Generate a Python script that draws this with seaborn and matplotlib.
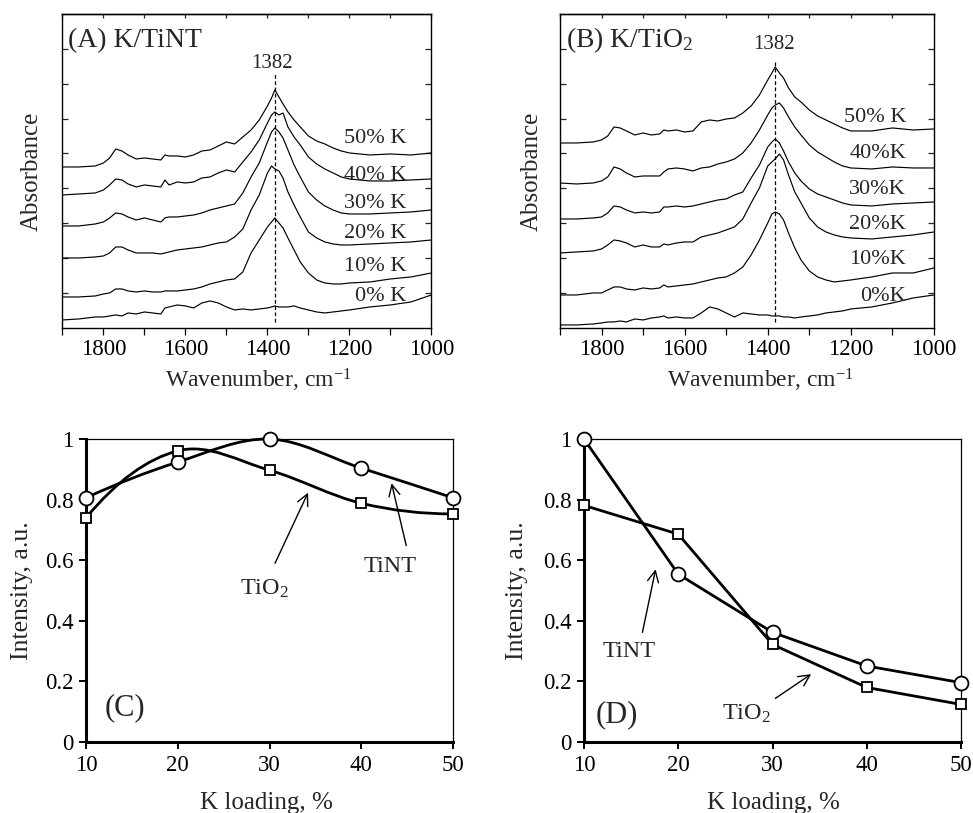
import numpy as np
import matplotlib
matplotlib.use("Agg")
import matplotlib.pyplot as plt
import seaborn as sns
from matplotlib.path import Path
from matplotlib.patches import PathPatch
from matplotlib.ticker import FuncFormatter

# ---- DRIFTS spectra (absorbance, arbitrary units, offset stacked) ----
wavenumber = [1900, 1860, 1820, 1800, 1785, 1770, 1755, 1740, 1720, 1700,
              1680, 1660, 1650, 1640, 1620, 1600, 1580, 1560, 1540, 1520,
              1500, 1480, 1460, 1440, 1420, 1400, 1390, 1382, 1372, 1362,
              1350, 1335, 1320, 1300, 1280, 1260, 1240, 1220, 1200, 1150,
              1100, 1050, 1000]

tint_50 = [1.61, 1.61, 1.62, 1.65, 1.70, 1.79, 1.77, 1.73, 1.69, 1.70,
           1.69, 1.68, 1.73, 1.72, 1.72, 1.71, 1.73, 1.77, 1.78, 1.82,
           1.86, 1.84, 1.91, 1.98, 2.08, 2.22, 2.30, 2.38, 2.31, 2.24,
           2.16, 2.08, 2.01, 1.92, 1.87, 1.84, 1.80, 1.77, 1.75, 1.73,
           1.74, 1.73, 1.75]
tint_40 = [1.33, 1.34, 1.35, 1.38, 1.43, 1.49, 1.48, 1.44, 1.41, 1.43,
           1.42, 1.41, 1.48, 1.43, 1.46, 1.45, 1.46, 1.50, 1.51, 1.55,
           1.58, 1.56, 1.66, 1.76, 1.88, 2.05, 2.13, 2.16, 2.13, 2.15,
           2.01, 1.91, 1.83, 1.71, 1.64, 1.59, 1.55, 1.51, 1.49, 1.47,
           1.47, 1.48, 1.49]
tint_30 = [1.02, 1.02, 1.04, 1.06, 1.10, 1.15, 1.14, 1.11, 1.08, 1.10,
           1.08, 1.06, 1.10, 1.11, 1.11, 1.12, 1.13, 1.15, 1.18, 1.20,
           1.22, 1.24, 1.35, 1.51, 1.65, 1.86, 1.96, 2.00, 1.96, 1.90,
           1.78, 1.63, 1.51, 1.36, 1.28, 1.22, 1.18, 1.15, 1.14, 1.14,
           1.15, 1.16, 1.18]
tint_20 = [0.70, 0.70, 0.71, 0.72, 0.75, 0.81, 0.81, 0.78, 0.75, 0.75,
           0.75, 0.74, 0.75, 0.76, 0.78, 0.79, 0.80, 0.81, 0.83, 0.85,
           0.86, 0.91, 0.99, 1.18, 1.33, 1.55, 1.62, 1.59, 1.57, 1.50,
           1.36, 1.23, 1.11, 0.96, 0.90, 0.86, 0.84, 0.83, 0.83, 0.84,
           0.85, 0.86, 0.88]
tint_10 = [0.31, 0.31, 0.32, 0.34, 0.35, 0.39, 0.39, 0.37, 0.36, 0.37,
           0.36, 0.36, 0.37, 0.37, 0.37, 0.38, 0.39, 0.41, 0.44, 0.46,
           0.48, 0.49, 0.56, 0.75, 0.88, 1.01, 1.06, 1.10, 1.05, 1.00,
           0.90, 0.78, 0.66, 0.55, 0.48, 0.45, 0.44, 0.44, 0.45, 0.46,
           0.49, 0.51, 0.55]
tint_0 = [0.08, 0.09, 0.11, 0.11, 0.12, 0.13, 0.12, 0.15, 0.14, 0.16,
          0.15, 0.14, 0.20, 0.21, 0.23, 0.22, 0.20, 0.25, 0.27, 0.25,
          0.21, 0.18, 0.19, 0.18, 0.19, 0.20, 0.21, 0.22, 0.21, 0.21,
          0.21, 0.22, 0.20, 0.18, 0.16, 0.15, 0.16, 0.17, 0.18, 0.21,
          0.23, 0.26, 0.33]

tio2_50 = [1.85, 1.85, 1.86, 1.88, 1.92, 2.01, 2.00, 1.97, 1.93, 1.95,
           1.93, 1.94, 1.98, 1.97, 1.98, 1.96, 1.97, 2.06, 2.08, 2.07,
           2.09, 2.10, 2.15, 2.22, 2.33, 2.48, 2.55, 2.61, 2.55, 2.50,
           2.40, 2.31, 2.26, 2.18, 2.12, 2.08, 2.04, 2.00, 1.97, 1.97,
           2.00, 1.98, 1.99]
tio2_40 = [1.45, 1.44, 1.45, 1.47, 1.51, 1.61, 1.59, 1.55, 1.51, 1.52,
           1.52, 1.52, 1.56, 1.59, 1.60, 1.59, 1.57, 1.60, 1.61, 1.64,
           1.66, 1.69, 1.75, 1.85, 1.98, 2.13, 2.20, 2.23, 2.25, 2.20,
           2.11, 2.01, 1.93, 1.83, 1.76, 1.71, 1.66, 1.62, 1.60, 1.59,
           1.61, 1.60, 1.60]
tio2_30 = [1.09, 1.09, 1.10, 1.11, 1.15, 1.22, 1.21, 1.18, 1.15, 1.16,
           1.15, 1.16, 1.21, 1.21, 1.22, 1.21, 1.22, 1.24, 1.26, 1.28,
           1.29, 1.33, 1.36, 1.50, 1.63, 1.81, 1.86, 1.89, 1.85, 1.77,
           1.66, 1.55, 1.47, 1.39, 1.34, 1.31, 1.28, 1.25, 1.23, 1.22,
           1.24, 1.25, 1.26]
tio2_20 = [0.75, 0.76, 0.77, 0.79, 0.83, 0.88, 0.87, 0.85, 0.81, 0.83,
           0.81, 0.81, 0.84, 0.83, 0.85, 0.86, 0.86, 0.91, 0.93, 0.95,
           0.98, 1.01, 1.09, 1.25, 1.40, 1.62, 1.66, 1.69, 1.74, 1.68,
           1.53, 1.36, 1.25, 1.10, 1.01, 0.96, 0.93, 0.91, 0.90, 0.89,
           0.91, 0.93, 0.96]
tio2_10 = [0.33, 0.33, 0.35, 0.35, 0.38, 0.41, 0.41, 0.39, 0.38, 0.40,
           0.39, 0.40, 0.43, 0.41, 0.42, 0.43, 0.44, 0.46, 0.48, 0.50,
           0.51, 0.55, 0.61, 0.73, 0.88, 1.05, 1.14, 1.16, 1.14, 1.08,
           0.95, 0.80, 0.68, 0.57, 0.51, 0.48, 0.46, 0.47, 0.48, 0.51,
           0.55, 0.55, 0.60]
tio2_0 = [0.03, 0.03, 0.04, 0.05, 0.06, 0.06, 0.07, 0.06, 0.09, 0.08,
          0.10, 0.11, 0.12, 0.10, 0.11, 0.10, 0.10, 0.15, 0.21, 0.19,
          0.15, 0.11, 0.15, 0.14, 0.13, 0.13, 0.12, 0.12, 0.12, 0.11,
          0.11, 0.10, 0.11, 0.12, 0.13, 0.15, 0.16, 0.17, 0.19, 0.21,
          0.25, 0.30, 0.33]

tint_labels = ["50% K", "40% K", "30% K", "20% K", "10% K", "0% K"]
tint_label_y = [1.85, 1.48, 1.20, 0.90, 0.57, 0.27]
tio2_labels = ["50% K", "40%K", "30%K", "20%K", "10%K", "0%K"]
tio2_label_y = [2.06, 1.70, 1.34, 0.99, 0.64, 0.27]
peak_wavenumber = 1382

# ---- normalised band intensity vs K loading ----
loading = [10, 20, 30, 40, 50]
c_tint = [0.806, 0.924, 1.0, 0.904, 0.806]
c_tio2 = [0.740, 0.961, 0.897, 0.788, 0.753]
d_tint = [1.0, 0.554, 0.362, 0.251, 0.196]
d_tio2 = [0.781, 0.686, 0.322, 0.180, 0.124]

sns.set_theme(style="ticks")
plt.rcParams["font.family"] = ["Liberation Serif", "DejaVu Serif"]
plt.rcParams["mathtext.fontset"] = "custom"
plt.rcParams["mathtext.rm"] = "Liberation Serif"
plt.rcParams["mathtext.it"] = "Liberation Serif:italic"
plt.rcParams["mathtext.default"] = "regular"

fig = plt.figure(figsize=(9.73, 8.13), dpi=100)
ax_a = fig.add_axes([0.0642, 0.5966, 0.3792, 0.3862])
ax_b = fig.add_axes([0.5755, 0.5966, 0.3844, 0.3862])
ax_c = fig.add_axes([0.0884, 0.0873, 0.3772, 0.3727])
ax_d = fig.add_axes([0.6002, 0.0873, 0.3875, 0.3727])


def smooth_path(x, y):
    # smoothed connecting line: cubic Bezier segments, central-difference
    # slopes inside, "natural" slopes at both ends
    x = np.asarray(x, float)
    y = np.asarray(y, float)
    n = len(x)
    m = np.zeros(n)
    m[1:-1] = (y[2:] - y[:-2]) / (x[2:] - x[:-2])
    chord = np.diff(y) / np.diff(x)
    m[0] = 2 * chord[0] - m[1]
    m[-1] = 2 * chord[-1] - m[-2]
    verts = [(x[0], y[0])]
    codes = [Path.MOVETO]
    for i in range(n - 1):
        h = (x[i + 1] - x[i]) / 3
        verts += [(x[i] + h, y[i] + m[i] * h),
                  (x[i + 1] - h, y[i + 1] - m[i + 1] * h),
                  (x[i + 1], y[i + 1])]
        codes += [Path.CURVE4] * 3
    return Path(verts, codes)


def spectra_panel(ax, series, labels, label_y, label_x, title, peak_y, ymax_line,
                  label_xfrac, ylab_x):
    for vals in series:
        sns.lineplot(x=wavenumber, y=vals, ax=ax, color="black", lw=0.85,
                     sort=False, estimator=None)
    for lab, ly in zip(labels, label_y):
        ax.text(label_x, ly, lab, ha="right", va="baseline", fontsize=16)
    ax.axvline(peak_wavenumber, ymin=0.018, ymax=ymax_line, color="black",
               lw=0.9, ls=(0, (3, 2)))
    ax.text(peak_wavenumber + peak_y[0], peak_y[1], str(peak_wavenumber),
            ha="center", va="baseline", fontsize=15)
    ax.text(0.016, 0.896, title, transform=ax.transAxes, ha="left",
            va="baseline", fontsize=20)
    ax.set_xlim(1900, 1000)
    ax.set_ylim(0, 3.14)
    ax.set_xticks([1800, 1600, 1400, 1200, 1000])
    ax.set_xticks([1900, 1700, 1500, 1300, 1100], minor=True)
    ax.set_yticks(np.arange(1, 9) * 0.349)
    ax.tick_params(axis="x", which="both", direction="out", length=5,
                   width=0.9, labelsize=16.5, pad=3, colors="black")
    ax.tick_params(axis="y", which="both", direction="in", length=4,
                   width=0.9, left=True, right=True, labelleft=False)
    top = ax.secondary_xaxis("top")
    top.set_xticks([1900, 1800, 1700, 1600, 1500, 1400, 1300, 1200, 1100, 1000])
    top.tick_params(direction="in", length=3, width=0.9, labeltop=False)
    top.spines["top"].set_linewidth(1.0)
    for s in ax.spines.values():
        s.set_linewidth(1.0)
        s.set_color("black")
    ax.set_xlabel("Wavenumber, cm$^{-1}$", fontsize=17)
    ax.set_ylabel("Absorbance", fontsize=18)
    ax.xaxis.label.set_va("center")
    ax.yaxis.label.set_va("center")
    ax.xaxis.set_label_coords(label_xfrac, -0.166)
    ax.yaxis.set_label_coords(ylab_x, 0.5)


spectra_panel(ax_a, [tint_50, tint_40, tint_30, tint_20, tint_10, tint_0],
              tint_labels, tint_label_y, 1062, "(A) K/TiNT", (6, 2.60), 0.812,
              0.53, -0.083)
spectra_panel(ax_b, [tio2_50, tio2_40, tio2_30, tio2_20, tio2_10, tio2_0],
              tio2_labels, tio2_label_y, 1067, "(B) K/TiO$_2$", (3, 2.79), 0.853,
              0.535, -0.076)


def intensity_axes(ax, panel, xlab_x, ylab_x):
    ax.set_xlim(10, 50)
    ax.set_ylim(0, 1)
    ax.set_xticks(loading)
    ax.set_yticks([0, 0.2, 0.4, 0.6, 0.8, 1.0])
    ax.yaxis.set_major_formatter(FuncFormatter(lambda v, p: f"{v:g}"))
    ax.tick_params(axis="both", direction="out", length=5, width=1.4,
                   labelsize=16.5, colors="black", pad=4)
    for side in ["left", "bottom"]:
        ax.spines[side].set_linewidth(2.2)
    for side in ["top", "right"]:
        ax.spines[side].set_linewidth(0.9)
    for s in ax.spines.values():
        s.set_color("black")
    ax.set_xlabel("K loading, %", fontsize=18)
    ax.set_ylabel("Intensity, a.u.", fontsize=18.5)
    ax.xaxis.label.set_va("center")
    ax.yaxis.label.set_va("center")
    ax.xaxis.set_label_coords(xlab_x, -0.2)
    ax.yaxis.set_label_coords(ylab_x, 0.5)
    ax.text(panel[1], panel[2], panel[0], ha="center", va="baseline", fontsize=22)


arrow = dict(arrowstyle="->", color="black", lw=1.0, mutation_scale=20,
             shrinkA=0, shrinkB=0)
marker_kw = dict(markerfacecolor="white", markeredgecolor="black",
                 markeredgewidth=1.3, clip_on=False, zorder=4)

# (C) smoothed lines
for vals in (c_tint, c_tio2):
    ax_c.add_patch(PathPatch(smooth_path(loading, vals), facecolor="none",
                             edgecolor="black", lw=2.0, zorder=3, clip_on=False))
sns.lineplot(x=loading, y=c_tint, ax=ax_c, linestyle="", marker="o",
             markersize=10, color="black", **marker_kw)
sns.lineplot(x=loading, y=c_tio2, ax=ax_c, linestyle="", marker="s",
             markersize=7.5, color="black", **marker_kw)
intensity_axes(ax_c, ("(C)", 14.25, 0.089), 0.492, -0.174)
ax_c.text(29.5, 0.485, "TiO$_2$", ha="center", va="baseline", fontsize=17.5)
ax_c.annotate("", xy=(34.2, 0.823), xytext=(30.6, 0.59), arrowprops=arrow)
ax_c.text(43.1, 0.562, "TiNT", ha="center", va="baseline", fontsize=17.5)
ax_c.annotate("", xy=(43.3, 0.854), xytext=(44.9, 0.648), arrowprops=arrow)

# (D) straight lines
sns.lineplot(x=loading, y=d_tint, ax=ax_d, color="black", lw=2.0, marker="o",
             markersize=10, **marker_kw)
sns.lineplot(x=loading, y=d_tio2, ax=ax_d, color="black", lw=2.0, marker="s",
             markersize=7.5, **marker_kw)
intensity_axes(ax_d, ("(D)", 13.5, 0.067), 0.502, -0.178)
ax_d.text(14.8, 0.282, "TiNT", ha="center", va="baseline", fontsize=17.5)
ax_d.annotate("", xy=(17.6, 0.57), xytext=(16.2, 0.362), arrowprops=arrow)
ax_d.text(27.2, 0.073, "TiO$_2$", ha="center", va="baseline", fontsize=17.5)
ax_d.annotate("", xy=(34.1, 0.224), xytext=(30.3, 0.144), arrowprops=arrow)

fig.savefig("out.png", dpi=100)
